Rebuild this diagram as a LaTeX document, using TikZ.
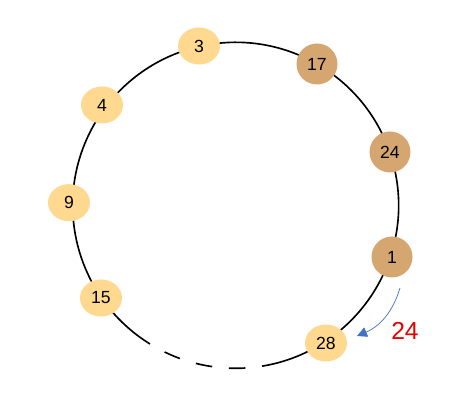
\documentclass[tikz,border=0pt]{standalone}
\usepackage{fontspec}
\setmainfont{Liberation Sans}
\usetikzlibrary{arrows.meta,shapes.geometric}
\tikzset{
  light/.style={ellipse, minimum width=1.26cm, minimum height=1.11cm, inner sep=0pt, fill={rgb,255:red,254; green,217; blue,143}, font=\fontsize{15}{18}\selectfont},
  tan/.style={circle, minimum size=1.23cm, inner sep=0pt, fill={rgb,255:red,214; green,166; blue,112}, font=\fontsize{15}{18}\selectfont}
}
\begin{document}
\begin{tikzpicture}
    \useasboundingbox [fill=white] (0,0) rectangle (14.19,12.36);
    \coordinate (c) at (7.07,6.2);
    \draw [line width=1.4pt] (c) ++(279.3:4.89) arc (279.3:597.3:4.89);
    \draw [line width=1.4pt, dash pattern=on 0.5cm off 0.5cm, dash phase=0.5cm] (c) ++(279.3:4.89) arc (279.3:237.3:4.89);
    \node [light] (n3) at (5.97,10.98) {3};
    \node [tan] (n17) at (9.51,10.44) {17};
    \node [tan] (n24) at (11.70,7.80) {24};
    \node [tan] (n1) at (11.76,4.65) {1};
    \node [light] (n28) at (9.78,2.07) {28};
    \node [light] (n15) at (3.03,3.42) {15};
    \node [light] (n9) at (2.07,6.28) {9};
    \node [light] (n4) at (3.06,9.21) {4};
    \coordinate (from) at (12.0,3.72);
    \coordinate (to) at (10.71,2.28);
    \draw [color={rgb,255:red,68; green,114; blue,196}, line width=0.6pt, -{Triangle[length=0.3cm, width=0.3cm]}] (from) to [bend left=25] (to);
    \node [font=\fontsize{21}{25}\selectfont, color={rgb,255:red,232; green,0; blue,0}] (lbl) at (12.15,2.43) {24};
\end{tikzpicture}
\end{document}
